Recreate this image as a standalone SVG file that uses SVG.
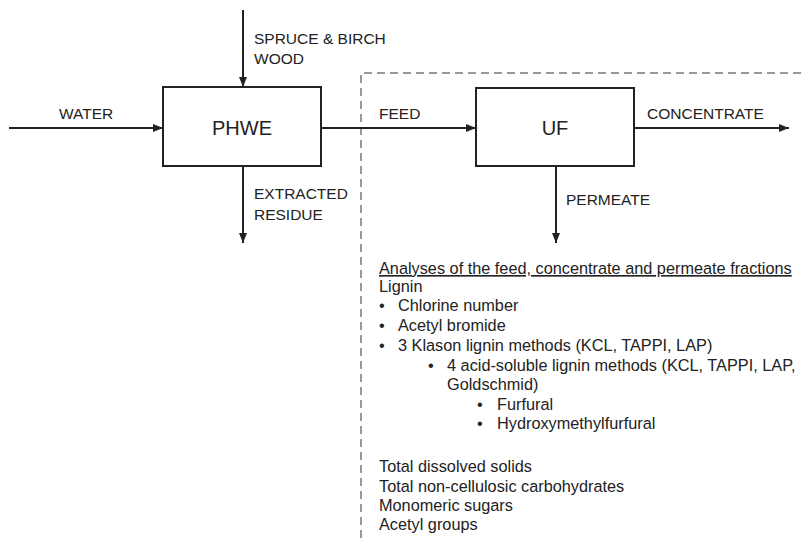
<svg xmlns="http://www.w3.org/2000/svg" width="801" height="538" viewBox="0 0 801 538">
<defs>
<marker id="ah" markerWidth="10" markerHeight="8" refX="10" refY="4" orient="auto" markerUnits="userSpaceOnUse">
<path d="M0,0 L10,4 L0,8 Z" fill="#222"/>
</marker>
<style>
text{font-family:"Liberation Sans",Arial,sans-serif;fill:#222}
.lbl{font-size:15.5px}
.big{font-size:20px;text-anchor:middle}
.txt{font-size:16.3px}
.box{fill:#fff;stroke:#222;stroke-width:2}
.arr{stroke:#222;stroke-width:2;fill:none;marker-end:url(#ah)}
</style>
</defs>
<rect width="801" height="538" fill="#fff"/>
<g id="boundary">
<path d="M361,538 L361,73 L801,73" fill="none" stroke="#777" stroke-width="1.5" stroke-dasharray="8,5"/>
</g>
<g id="connectors">
<line class="arr" x1="9" y1="128" x2="163" y2="128"/>
<line class="arr" x1="243" y1="10" x2="243" y2="87"/>
<line class="arr" x1="243" y1="166" x2="243" y2="243"/>
<line class="arr" x1="321" y1="128" x2="476" y2="128"/>
<line class="arr" x1="634" y1="128" x2="789" y2="128"/>
<line class="arr" x1="556" y1="166" x2="556" y2="243"/>
</g>
<g id="labels">
<text class="lbl" x="59" y="119">WATER</text>
<text class="lbl" x="254" y="44">SPRUCE &amp; BIRCH</text>
<text class="lbl" x="254" y="64">WOOD</text>
<text class="lbl" x="254" y="199">EXTRACTED</text>
<text class="lbl" x="254" y="220">RESIDUE</text>
<text class="lbl" x="379" y="119">FEED</text>
<text class="lbl" x="647" y="119">CONCENTRATE</text>
<text class="lbl" x="566" y="205">PERMEATE</text>
</g>
<g id="phwe">
<rect class="box" x="163" y="87" width="158" height="79"/>
<text class="big" x="242" y="135">PHWE</text>
</g>
<g id="uf">
<rect class="box" x="476" y="88" width="158" height="78"/>
<text class="big" x="555" y="135">UF</text>
</g>
<g id="analyses">
<text class="txt" x="379" y="274" text-decoration="underline">Analyses of the feed, concentrate and permeate fractions</text>
<text class="txt" x="379" y="292">Lignin</text>
<text class="txt" x="379" y="311">•</text><text class="txt" x="398" y="311">Chlorine number</text>
<text class="txt" x="379" y="331">•</text><text class="txt" x="398" y="331">Acetyl bromide</text>
<text class="txt" x="379" y="351">•</text><text class="txt" x="398" y="351">3 Klason lignin methods (KCL, TAPPI, LAP)</text>
<text class="txt" x="428" y="371">•</text><text class="txt" x="447" y="371">4 acid-soluble lignin methods (KCL, TAPPI, LAP,</text>
<text class="txt" x="447" y="390">Goldschmid)</text>
<text class="txt" x="477" y="410">•</text><text class="txt" x="497" y="410">Furfural</text>
<text class="txt" x="477" y="429">•</text><text class="txt" x="497" y="429">Hydroxymethylfurfural</text>
<text class="txt" x="379" y="472">Total dissolved solids</text>
<text class="txt" x="379" y="492">Total non-cellulosic  carbohydrates</text>
<text class="txt" x="379" y="511">Monomeric sugars</text>
<text class="txt" x="379" y="530">Acetyl groups</text>
</g>
</svg>
